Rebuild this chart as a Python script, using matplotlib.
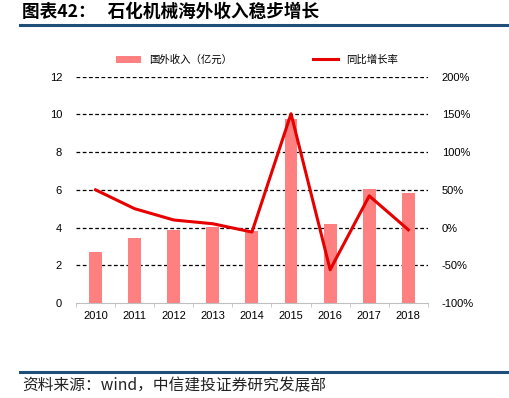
import matplotlib.pyplot as plt
import numpy as np

plt.rcParams['font.family'] = ['Noto Sans CJK SC', 'DejaVu Sans']

years = ["2010", "2011", "2012", "2013", "2014", "2015", "2016", "2017", "2018"]
revenue = [2.72, 3.43, 3.88, 4.05, 3.79, 9.75, 4.18, 6.04, 5.83]       # 国外收入（亿元）
growth = [50, 25, 10, 5, -6, 151, -56, 42, -3]                           # 同比增长率 (%)

fig = plt.figure(figsize=(5.1, 3.98), dpi=100)
ax = fig.add_axes([0.149, 0.239, 0.69, 0.568])
ax2 = ax.twinx()

x = np.arange(len(years))
ax.bar(x, revenue, width=0.33, color='#FF8080', label='国外收入（亿元）', zorder=2)
ax2.plot(x, growth, color='#E60000', linewidth=2.2, label='同比增长率', zorder=3)

ax.set_ylim(0, 12)
ax.set_yticks(range(0, 13, 2))
ax2.set_ylim(-100, 200)
ax2.set_yticks(range(-100, 201, 50))
ax2.set_yticklabels([f"{v}%" for v in range(-100, 201, 50)])
ax.set_xlim(-0.5, len(years) - 0.5)
ax.set_xticks(x)
ax.set_xticklabels(years)
ax.set_xticks(np.arange(-0.5, len(years), 1), minor=True)

tick_font = ['Liberation Sans', 'DejaVu Sans']
for a in (ax, ax2):
    for s in ['top', 'left', 'right', 'bottom']:
        a.spines[s].set_visible(False)
    a.tick_params(axis='y', length=0, labelsize=8, pad=10)
    for lab in a.get_yticklabels():
        lab.set_family(tick_font)
ax.spines['bottom'].set_visible(True)
ax.spines['bottom'].set_color('#BFBFBF')
ax.tick_params(axis='x', which='major', length=0, labelsize=8, pad=6)
ax.tick_params(axis='x', which='minor', length=3, color='#BFBFBF')
for lab in ax.get_xticklabels():
    lab.set_family(tick_font)

for v in range(2, 13, 2):
    ax.axhline(v, color='black', linestyle='--', linewidth=0.9, dashes=(3, 2), zorder=1)

h1, l1 = ax.get_legend_handles_labels()
h2, l2 = ax2.get_legend_handles_labels()
fig.legend(h1 + h2, l1 + l2, loc='center', bbox_to_anchor=(0.504, 0.85), ncol=2,
           frameon=False, fontsize=7.5, columnspacing=7.7, handlelength=2.4)

fig.text(0.043, 0.97, '图表42：   石化机械海外收入稳步增长', fontsize=12.7, fontweight='bold',
         ha='left', va='center')
fig.add_artist(plt.Line2D([0.04, 1.0], [0.937, 0.937], color='#1F4E79', linewidth=2.2))
fig.add_artist(plt.Line2D([0.04, 1.0], [0.065, 0.065], color='#1F4E79', linewidth=2.2))
fig.text(0.043, 0.031, '资料来源：wind，中信建投证券研究发展部', fontsize=11.3, style='italic',
         ha='left', va='center', color='#222222')

fig.savefig('out.png', dpi=100)
